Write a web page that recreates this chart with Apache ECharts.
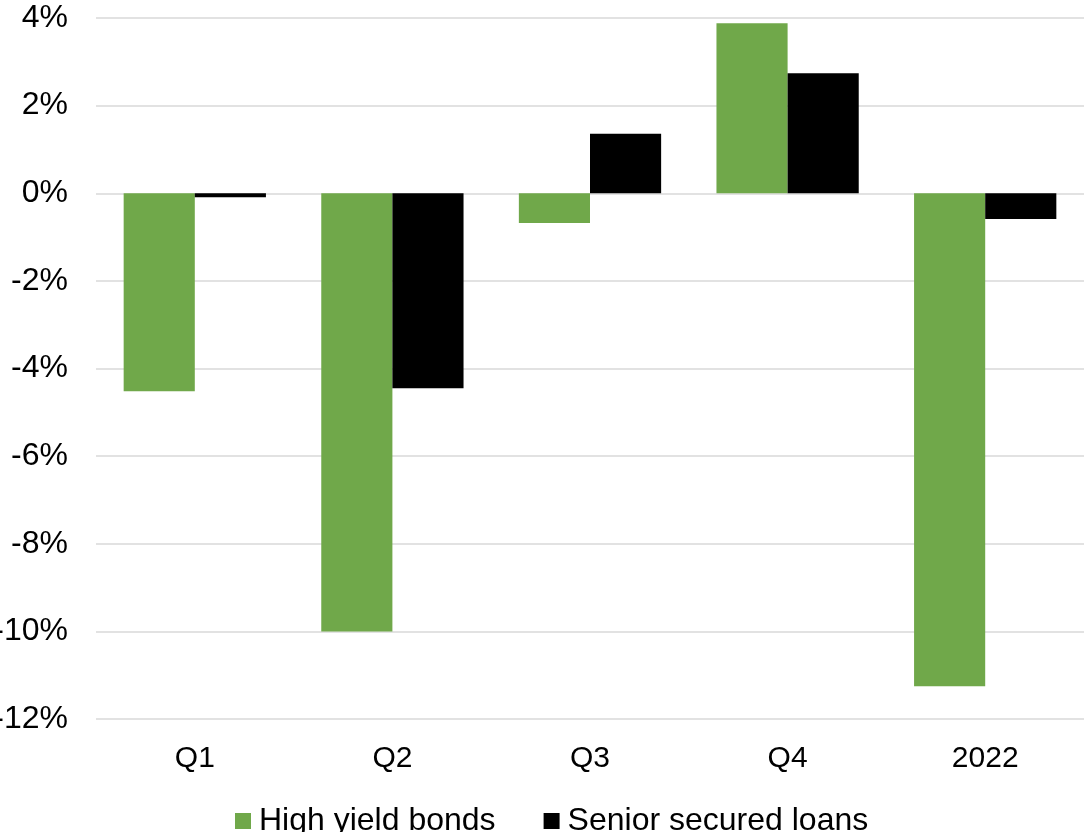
<!DOCTYPE html>
<html>
<head>
<meta charset="utf-8">
<script src="https://cdn.jsdelivr.net/npm/echarts@6/dist/echarts.min.js"></script>
<style>
  html, body { margin: 0; padding: 0; background: #ffffff; }
  #chart { width: 1086px; height: 832px; }
</style>
</head>
<body>
<div id="chart"></div>
<script>
// Returns by period (percent)
const categories = ['Q1', 'Q2', 'Q3', 'Q4', '2022'];
const highYieldBonds = [-4.52, -10.0, -0.68, 3.88, -11.25];
const seniorSecuredLoans = [-0.09, -4.45, 1.36, 2.74, -0.59];
const seriesNames = ['High yield bonds', 'Senior secured loans'];

const FONT = 'Arial, "Liberation Sans", Helvetica, sans-serif';

const chart = echarts.init(document.getElementById('chart'), null, { renderer: 'canvas' });

chart.setOption({
  animation: false,
  backgroundColor: '#ffffff',
  grid: {
    left: 96, right: 2, top: 18, bottom: 113,
    containLabel: false,
    outerBoundsMode: 'none'
  },
  legend: {
    data: seriesNames,
    left: 230,
    top: 800,
    itemWidth: 16,
    itemHeight: 16,
    itemGap: 48,
    icon: 'rect',
    textStyle: { fontFamily: FONT, fontSize: 32, color: '#000000', padding: [0, 0, 0, 3] }
  },
  xAxis: {
    type: 'category',
    data: categories,
    axisLine: { show: false },
    axisTick: { show: false },
    axisLabel: { fontFamily: FONT, fontSize: 30, color: '#000000', margin: 25 }
  },
  yAxis: {
    type: 'value',
    min: -12,
    max: 4,
    interval: 2,
    axisLine: { show: false },
    axisTick: { show: false },
    splitLine: { lineStyle: { color: '#d9d9d9', width: 1.5 } },
    axisLabel: {
      fontFamily: FONT, fontSize: 32, color: '#000000', margin: 28,
      formatter: v => v + '%'
    }
  },
  series: [
    {
      name: seriesNames[0],
      type: 'bar',
      data: highYieldBonds,
      barWidth: '36%',
      barGap: '0%',
      itemStyle: { color: '#70a84a' }
    },
    {
      name: seriesNames[1],
      type: 'bar',
      data: seniorSecuredLoans,
      barWidth: '36%',
      barGap: '0%',
      itemStyle: { color: '#000000' }
    }
  ]
});
</script>
</body>
</html>
